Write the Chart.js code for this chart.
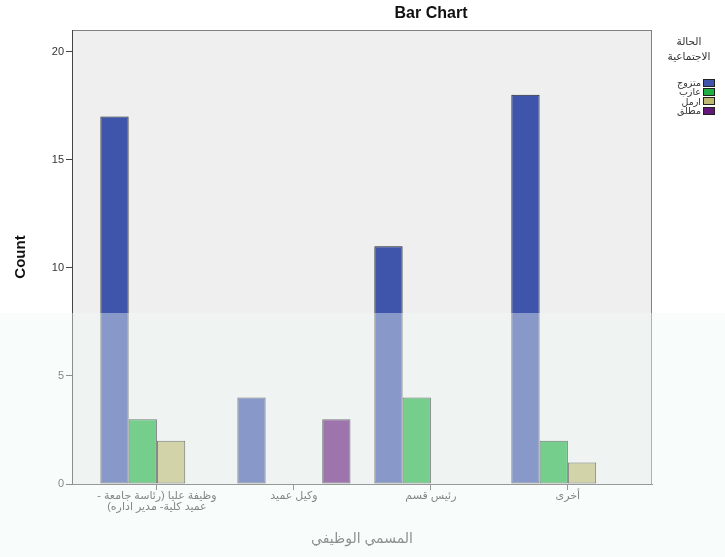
<!DOCTYPE html>
<html>
<head>
<meta charset="utf-8">
<script src="https://cdn.jsdelivr.net/npm/chart.js@4/dist/chart.umd.min.js"></script>
<style>
  html, body { margin: 0; padding: 0; background: #ffffff; }
  #wrap { position: relative; width: 725px; height: 557px; font-family: Arial, "Liberation Sans", "DejaVu Sans", sans-serif; }
  #title { position: absolute; left: 331px; width: 200px; top: 4px; text-align: center; font-weight: bold; font-size: 16px; color: #111; }
  #legend { position: absolute; left: 656px; top: 34px; width: 66px; color: #333; font-size: 10.5px; }
  #legend .lt { text-align: center; line-height: 15px; margin-bottom: 14px; direction: rtl; }
  #legend .it { display: flex; justify-content: flex-end; align-items: center; height: 9.3px; margin-right: 7px; }
  #legend .sw { width: 12px; height: 8px; border: 1px solid #222; margin-left: 2px; box-sizing: border-box; }
  #legend .tx { direction: rtl; font-size: 9.5px; line-height: 9px; }
  canvas { position: absolute; left: 0; top: 0; }
</style>
</head>
<body>
<div id="wrap">
  <canvas id="c" width="725" height="557" dir="rtl"></canvas>
  <div id="title">Bar Chart</div>
  <div id="legend"></div>
</div>
<script>
// ---- data ----
const categories = [["وظيفة عليا (رئاسة جامعة -", "عميد كلية- مدير اداره)"], "وكيل عميد", "رئيس قسم", "أخرى"];
const seriesNames = ["متزوج", "عازب", "ارمل", "مطلق"];
const married  = [17, 4, 11, 18];
const single   = [3, 0, 4, 2];
const widowed  = [2, 0, 0, 1];
const divorced = [0, 3, 0, 0];
const yTicks = [0, 5, 10, 15, 20];
const legendTitle = ["الحالة", "الاجتماعية"];
const xTitle = "المسمي الوظيفي";
const yTitle = "Count";

const seriesValues = [married, single, widowed, divorced];
const seriesColors = ["#3f55ab", "#1fb044", "#bdb872", "#64167a"];

const datasets = seriesValues.map((vals, s) => ({
  label: seriesNames[s],
  data: vals.map((v, i) => ({ x: i, y: v })),
  backgroundColor: seriesColors[s],
  borderColor: "#222",
  borderWidth: 1,
  borderSkipped: false,
  categoryPercentage: 0.826,
  barPercentage: 1.0
}));

const bgPlugin = {
  id: "bg",
  beforeDraw(chart) {
    const { ctx, chartArea: a } = chart;
    ctx.save();
    ctx.fillStyle = "#ffffff";
    ctx.fillRect(0, 0, chart.width, chart.height);
    ctx.fillStyle = "#efefef";
    ctx.fillRect(a.left, a.top, a.right - a.left, a.bottom - a.top);
    ctx.strokeStyle = "#808080";
    ctx.lineWidth = 1;
    ctx.strokeRect(a.left + 0.5, a.top + 0.5, a.right - a.left - 1, a.bottom - a.top);
    ctx.restore();
  },
  afterDraw(chart) {
    // washed-out watermark band on the lower part of the picture
    const { ctx } = chart;
    ctx.save();
    ctx.fillStyle = "rgba(238,248,243,0.42)";
    ctx.fillRect(0, 313, chart.width, chart.height - 313);
    ctx.restore();
  }
};

new Chart(document.getElementById("c"), {
  type: "bar",
  data: { datasets },
  plugins: [bgPlugin],
  options: {
    responsive: false,
    animation: false,
    events: [],
    layout: { padding: { top: 30, right: 73, left: 0, bottom: 0 } },
    plugins: { legend: { display: false }, tooltip: { enabled: false }, title: { display: false } },
    scales: {
      x: {
        type: "linear",
        offset: false,
        min: -0.62,
        max: 3.614,
        afterBuildTicks(scale) { scale.ticks = categories.map((c, i) => ({ value: i })); },
        afterFit(scale) { scale.height = 73; },
        ticks: {
          autoSkip: false,
          maxRotation: 0,
          minRotation: 0,
          padding: 1,
          color: "#333",
          font: { family: "Arial, 'Liberation Sans', 'DejaVu Sans'", size: 11, lineHeight: 0.95 },
          callback: (v) => categories[v]
        },
        grid: { display: true, offset: false, drawOnChartArea: false, drawTicks: true, tickLength: 6, color: "#555" },
        border: { display: true, color: "#555", width: 1 },
        title: {
          display: true, text: xTitle, color: "#444",
          font: { family: "Arial, 'Liberation Sans', 'DejaVu Sans'", size: 14 },
          padding: { top: 4, bottom: 9 }
        }
      },
      y: {
        min: 0,
        max: 21,
        afterBuildTicks(scale) { scale.ticks = yTicks.map(v => ({ value: v })); },
        afterFit(scale) { scale.width = 72; },
        ticks: {
          color: "#333",
          padding: 2,
          font: { family: "Arial, 'Liberation Sans', 'DejaVu Sans'", size: 11 }
        },
        grid: { display: true, drawOnChartArea: false, drawTicks: true, tickLength: 6, color: "#444" },
        border: { display: true, color: "#444", width: 1 },
        title: {
          display: true, text: yTitle, color: "#111",
          font: { family: "Arial, 'Liberation Sans', 'DejaVu Sans'", size: 15, weight: "bold" },
          padding: { top: 12, bottom: 4 }
        }
      }
    }
  }
});

// legend built from the series arrays
const lg = document.getElementById("legend");
const lt = document.createElement("div");
lt.className = "lt";
lt.innerHTML = legendTitle.join("<br>");
lg.appendChild(lt);
seriesNames.forEach((n, i) => {
  const it = document.createElement("div");
  it.className = "it";
  const tx = document.createElement("span");
  tx.className = "tx";
  tx.textContent = n;
  const sw = document.createElement("span");
  sw.className = "sw";
  sw.style.background = seriesColors[i];
  it.appendChild(tx);
  it.appendChild(sw);
  lg.appendChild(it);
});
</script>
</body>
</html>
